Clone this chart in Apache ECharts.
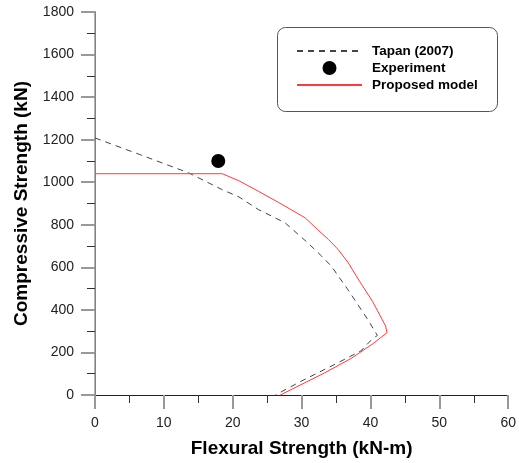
<!DOCTYPE html>
<html>
<head>
<meta charset="utf-8">
<script src="https://cdn.jsdelivr.net/npm/echarts@6/dist/echarts.min.js"></script>
<style>html,body{margin:0;padding:0;background:#fff;}#c{width:519px;height:463px;}</style>
</head>
<body>
<div id="c"></div>
<script>
// Tapan (2007) curve
var tapanX = [0, 6.5, 13.6, 18.4, 20.9, 23.7, 27.6, 30.9, 32.9, 34.3, 36.7, 39.6, 41.0, 40.1, 38.6, 35.3, 30.0, 26.2];
var tapanY = [1208, 1130, 1044, 966, 931, 872, 809, 715, 653, 606, 496, 355, 280, 258, 207, 152, 66, 0];
// Experiment point
var expX = [17.9];
var expY = [1100];
// Proposed model curve
var propX = [0, 18.5, 21.0, 23.7, 26.6, 30.5, 32.3, 33.9, 35.3, 36.7, 38.4, 40.3, 42.2, 42.4, 40.4, 37.2, 33.1, 26.9];
var propY = [1040, 1040, 1005, 958, 906, 833, 778, 731, 684, 625, 535, 440, 324, 293, 242, 172, 100, 0];

function zip(a, b) { return a.map(function (v, i) { return [v, b[i]]; }); }

var FONT = '"Liberation Sans", Arial, sans-serif';
var chart = echarts.init(document.getElementById('c'));
chart.setOption({
  animation: false,
  backgroundColor: '#fff',
  grid: { left: 95, right: 7, top: 12, bottom: 67 },
  graphic: [{
    type: 'rect', z: 1,
    shape: { x: 277.5, y: 27.5, width: 220, height: 84, r: 8 },
    style: { fill: '#fff', stroke: '#555', lineWidth: 1 }
  }],
  legend: {
    orient: 'vertical', left: 296, top: 44, padding: 0,
    itemWidth: 65, itemHeight: 14, itemGap: 3,
    textStyle: { fontFamily: FONT, fontWeight: 'bold', fontSize: 13.5, color: '#000', padding: [0, 0, 0, 5] },
    data: [
      { name: 'Tapan (2007)', itemStyle: { opacity: 0 } },
      { name: 'Experiment' },
      { name: 'Proposed model', itemStyle: { opacity: 0 } }
    ]
  },
  xAxis: [{
    type: 'value', min: 0, max: 60, interval: 10,
    name: 'Flexural Strength (kN-m)', nameLocation: 'middle', nameGap: 44,
    nameTextStyle: { fontFamily: FONT, fontWeight: 'bold', fontSize: 19, color: '#000' },
    axisLine: { show: true, lineStyle: { color: '#444', width: 1 } },
    axisTick: { show: true, length: 14, lineStyle: { color: '#999', width: 2 } },
    minorTick: { show: true, splitNumber: 2, length: 8, lineStyle: { color: '#333', width: 1 } },
    axisLabel: { margin: 21, fontFamily: FONT, fontSize: 14, color: '#222' },
    splitLine: { show: false }
  }, {
    type: 'value', position: 'top', min: 0, max: 60,
    axisLine: { show: true, lineStyle: { color: '#222', width: 1 } },
    axisTick: { show: false }, axisLabel: { show: false }, splitLine: { show: false }
  }],
  yAxis: [{
    type: 'value', min: 0, max: 1800, interval: 200,
    name: 'Compressive Strength (kN)', nameLocation: 'middle', nameGap: 64,
    nameTextStyle: { fontFamily: FONT, fontWeight: 'bold', fontSize: 19, color: '#000' },
    axisLine: { show: true, lineStyle: { color: '#444', width: 1 } },
    axisTick: { show: true, length: 14, lineStyle: { color: '#999', width: 2 } },
    minorTick: { show: true, splitNumber: 2, length: 8, lineStyle: { color: '#333', width: 1 } },
    axisLabel: { margin: 21, fontFamily: FONT, fontSize: 14, color: '#222', formatter: function (v) { return String(v); } },
    splitLine: { show: false }
  }, {
    type: 'value', position: 'right', min: 0, max: 1800,
    axisLine: { show: true, lineStyle: { color: '#999', width: 1.5 } },
    axisTick: { show: false }, axisLabel: { show: false }, splitLine: { show: false }
  }],
  series: [{
    name: 'Tapan (2007)', type: 'line', data: zip(tapanX, tapanY),
    showSymbol: false, symbol: 'none',
    lineStyle: { color: '#444', width: 1, type: [6, 5] },
    itemStyle: { color: '#444' }
  }, {
    name: 'Experiment', type: 'scatter', data: zip(expX, expY),
    symbol: 'circle', symbolSize: 14,
    itemStyle: { color: '#000', opacity: 1 }
  }, {
    name: 'Proposed model', type: 'line', data: zip(propX, propY),
    showSymbol: false, symbol: 'none',
    lineStyle: { color: '#ff3a3a', width: 1 },
    itemStyle: { color: '#ff3a3a' }
  }]
});
</script>
</body>
</html>
